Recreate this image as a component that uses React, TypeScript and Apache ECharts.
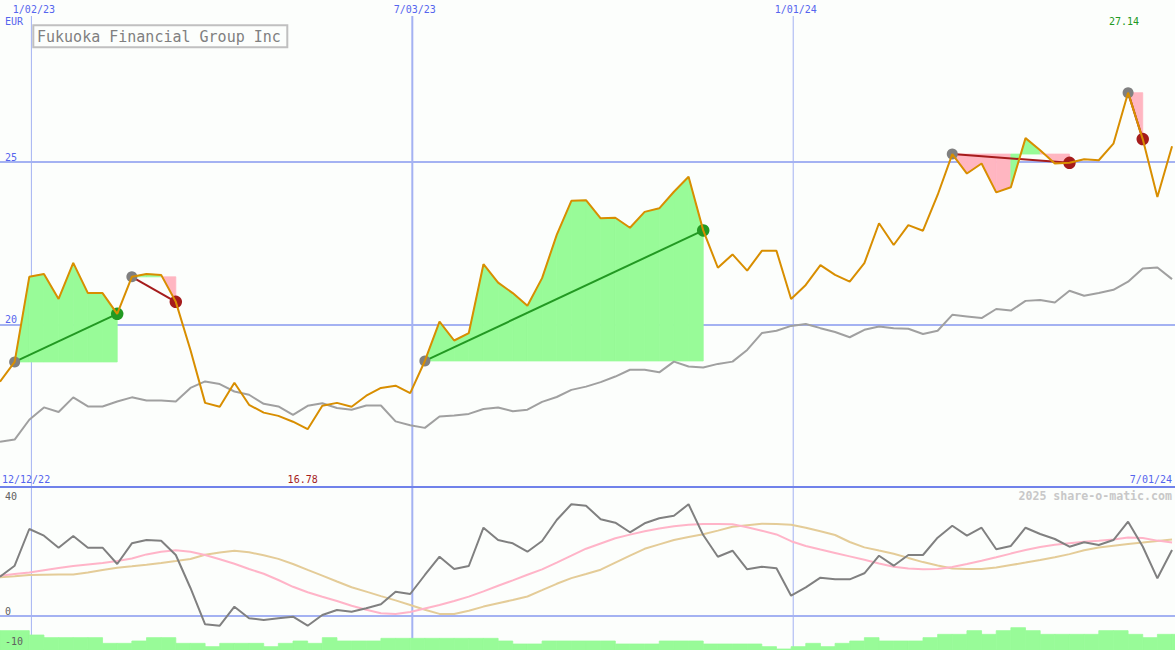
import React, { useEffect, useRef } from "react";
import * as echarts from "echarts";

// ---------- data ----------
const weekDates = [
  "2022-12-18", "2022-12-25",
  "2023-01-01", "2023-01-08", "2023-01-15", "2023-01-22", "2023-01-29",
  "2023-02-05", "2023-02-12", "2023-02-19", "2023-02-26",
  "2023-03-05", "2023-03-12", "2023-03-19", "2023-03-26",
  "2023-04-02", "2023-04-09", "2023-04-16", "2023-04-23", "2023-04-30",
  "2023-05-07", "2023-05-14", "2023-05-21", "2023-05-28",
  "2023-06-04", "2023-06-11", "2023-06-18", "2023-06-25",
  "2023-07-02", "2023-07-09", "2023-07-16", "2023-07-23", "2023-07-30",
  "2023-08-06", "2023-08-13", "2023-08-20", "2023-08-27",
  "2023-09-03", "2023-09-10", "2023-09-17", "2023-09-24",
  "2023-10-01", "2023-10-08", "2023-10-15", "2023-10-22", "2023-10-29",
  "2023-11-05", "2023-11-12", "2023-11-19", "2023-11-26",
  "2023-12-03", "2023-12-10", "2023-12-17", "2023-12-24", "2023-12-31",
  "2024-01-07", "2024-01-14", "2024-01-21", "2024-01-28",
  "2024-02-04", "2024-02-11", "2024-02-18", "2024-02-25",
  "2024-03-03", "2024-03-10", "2024-03-17", "2024-03-24", "2024-03-31",
  "2024-04-07", "2024-04-14", "2024-04-21", "2024-04-28",
  "2024-05-05", "2024-05-12", "2024-05-19", "2024-05-26",
  "2024-06-02", "2024-06-09", "2024-06-16", "2024-06-23", "2024-06-30",
];

const price = [
  18.24, 18.85, 21.47, 21.56, 20.79, 21.90, 20.97, 20.97, 20.33, 21.47,
  21.56, 21.53, 20.70, 19.22, 17.59, 17.47, 18.21, 17.53, 17.29, 17.19,
  17.01, 16.78, 17.50, 17.59, 17.47, 17.81, 18.05, 18.12, 17.89, 18.88,
  20.09, 19.51, 19.74, 21.86, 21.29, 20.97, 20.58, 21.43, 22.76, 23.81,
  23.83, 23.27, 23.29, 22.98, 23.47, 23.58, 24.09, 24.55, 22.90, 21.75,
  22.16, 21.66, 22.27, 22.27, 20.79, 21.22, 21.83, 21.53, 21.32, 21.89,
  23.12, 22.45, 23.06, 22.89, 23.99, 25.25, 24.65, 24.96, 24.07, 24.23,
  25.74, 25.37, 24.96, 24.98, 25.09, 25.06, 25.57, 27.14, 25.71, 23.93,
  25.49,
];

const benchmark = [
  16.39, 16.46, 17.07, 17.45, 17.31, 17.76, 17.48, 17.48, 17.63, 17.76,
  17.66, 17.66, 17.63, 18.05, 18.25, 18.17, 17.94, 17.84, 17.56, 17.48,
  17.22, 17.50, 17.58, 17.43, 17.38, 17.51, 17.51, 17.02, 16.90, 16.82,
  17.17, 17.20, 17.25, 17.40, 17.45, 17.33, 17.38, 17.62, 17.77, 17.99,
  18.09, 18.23, 18.40, 18.61, 18.61, 18.53, 18.86, 18.71, 18.68, 18.79,
  18.86, 19.22, 19.74, 19.81, 19.96, 20.02, 19.89, 19.77, 19.61, 19.84,
  19.94, 19.89, 19.87, 19.71, 19.81, 20.30, 20.25, 20.20, 20.48, 20.43,
  20.73, 20.76, 20.68, 21.04, 20.89, 20.97, 21.07, 21.32, 21.73, 21.76,
  21.40,
];

const oscillator = [
  13.74, 17.59, 30.42, 28.08, 23.88, 27.97, 23.88, 23.88, 18.18, 25.42,
  26.57, 26.33, 21.33, 9.8, -2.9, -3.39, 3.25, -0.8, -1.4, -0.8,
  -0.24, -3.39, 0.35, 2.1, 1.5, 2.69, 4.09, 8.5, 7.69, 14.34,
  20.73, 16.43, 17.48, 30.87, 26.57, 25.42, 22.48, 26.22, 33.57, 39.06,
  38.57, 33.81, 32.62, 29.27, 32.41, 34.16, 35.07, 39.06, 28.3, 20.73,
  22.83, 16.33, 17.24, 16.68, 7.1, 10.03, 13.39, 12.83, 12.83, 14.93,
  21.08, 17.59, 21.33, 21.33, 27.38, 31.57, 28.08, 30.87, 23.32, 24.48,
  30.87, 28.67, 26.92, 24.23, 25.77, 24.83, 26.57, 32.97, 24.3, 13.18,
  23.08,
];

const signalFast = [
  14.09, 14.69, 15.24, 16.01, 16.78, 17.45, 18.01, 18.53, 19.23, 20.10,
  21.54, 22.48, 23.01, 22.48, 21.33, 19.83, 18.25, 16.43, 14.76, 12.59,
  10.21, 8.29, 6.71, 5.24, 3.60, 2.17, 0.94, 0.70, 1.40, 2.62,
  3.85, 5.24, 6.78, 8.60, 10.59, 12.45, 14.41, 16.29, 18.67, 21.08,
  23.53, 25.35, 27.17, 28.46, 29.62, 30.59, 31.40, 31.89, 32.17, 32.13,
  32.06, 31.01, 29.79, 28.53, 26.15, 24.48, 23.22, 22.03, 20.84, 19.65,
  18.36, 17.20, 16.61, 16.33, 16.43, 17.13, 18.18, 19.30, 20.52, 21.82,
  23.08, 24.13, 24.90, 25.45, 25.94, 26.29, 26.75, 27.48, 27.27, 26.36,
  25.73,
];

const signalSlow = [
  13.53, 13.92, 14.34, 14.41, 14.48, 14.55, 15.21, 16.08, 16.85, 17.38,
  17.94, 18.53, 19.20, 19.93, 21.40, 22.20, 22.80, 22.27, 21.26, 19.97,
  18.18, 16.15, 14.13, 12.06, 10.07, 8.53, 6.96, 5.45, 3.85, 2.20,
  0.73, 0.70, 1.85, 3.29, 4.44, 5.59, 6.82, 9.02, 11.26, 13.25,
  14.69, 16.19, 18.67, 21.12, 23.50, 25.03, 26.57, 27.62, 28.57, 29.86,
  31.19, 31.75, 32.24, 32.17, 31.89, 30.87, 29.62, 28.32, 25.87, 23.99,
  22.87, 21.78, 20.31, 18.85, 17.69, 16.61, 16.43, 16.43, 16.92, 17.80,
  18.67, 19.58, 20.52, 21.64, 22.97, 23.95, 24.55, 25.14, 25.66, 26.19,
  26.71,
];

const volume = [
  5.8, 5.8, 4.5, 3.7, 3.7, 3.7, 3.7, 2.0, 2.0, 2.7,
  3.7, 3.7, 2.0, 2.0, 1.0, 2.0, 2.0, 2.0, 1.0, 2.0,
  2.7, 2.0, 3.7, 2.7, 2.7, 2.7, 3.5, 3.5, 3.5, 3.5,
  3.5, 3.5, 3.5, 3.5, 2.7, 1.8, 1.8, 2.7, 2.7, 2.7,
  2.7, 2.7, 1.8, 1.8, 1.8, 2.7, 2.7, 2.7, 1.8, 1.8,
  1.8, 1.8, 1.0, 0.3, 1.0, 2.0, 1.0, 2.0, 2.7, 3.7,
  2.7, 2.7, 2.7, 3.7, 4.7, 4.7, 5.8, 4.7, 5.8, 6.7,
  5.8, 4.7, 4.7, 4.7, 4.7, 5.8, 5.8, 4.7, 3.7, 4.7,
  4.7,
];

// trades: week index of entry and of exit
const tradeEntries = [1, 9, 29, 65, 77];
const tradeExits = [8, 12, 48, 73, 78];

const gridDates = ["2023-01-02", "2023-07-03", "2024-01-01"];
const gridDateLabels = ["1/02/23", "7/03/23", "1/01/24"];
const upperTickLabels = [20, 25];
const lowerTickLabels = [-10, 0, 40];
const lowerRefLevels = [0];
const rangeStartLabel = "12/12/22";
const rangeEndLabel = "7/01/24";
const titleText = "Fukuoka Financial Group Inc";
const currencyText = "EUR";
const watermarkText = "2025 share-o-matic.com";
const axisStart = "2022-12-18";
const axisEnd = "2024-07-01T10:00:00Z";

// ---------- styles ----------
const BG = "#fcfefc";
const BLUE = "#5565ee";
const GRID_BLUE = "#a4b2f2";
const SEP_BLUE = "#7082ea";
const ORANGE = "#d88e00";
const GREEN_FILL = "#98fb98";
const PINK_FILL = "#ffb6c1";
const WIN = "#229922";
const LOSS = "#a51c1c";
const MONO = "DejaVu Sans Mono";
const FONT10 = '10px "DejaVu Sans Mono", monospace';
const gridLineWidths = [1, 2, 1];
const LOWER_MIN = -10;

export default function App() {
  const ref = useRef<HTMLDivElement>(null);

  useEffect(() => {
    if (!ref.current) return;
    const chart = echarts.init(ref.current, null, { renderer: "svg" });
    const ts = weekDates.map((d) => Date.parse(d));
    const T0 = Date.parse(axisStart);
    const T1 = Date.parse(axisEnd);
    const WEEK = 7 * 86400000;

    const pairs = (arr: number[]) => arr.map((v, i) => [ts[i], v]);

    // area segments for each trade
    const areaData: number[][] = [];
    tradeEntries.forEach((e, k) => {
      const x = tradeExits[k];
      const lv = price[e];
      for (let j = e; j < x; j++) {
        areaData.push([ts[j], price[j], ts[j + 1], price[j + 1], lv]);
      }
    });

    const tradeLineSeries = tradeEntries.map((e, k) => {
      const x = tradeExits[k];
      const win = price[x] >= price[e];
      return {
        type: "line",
        xAxisIndex: 0,
        yAxisIndex: 0,
        z: 4,
        symbol: "none",
        silent: true,
        lineStyle: { color: win ? WIN : LOSS, width: 2 },
        data: [
          [ts[e], price[e]],
          [ts[x], price[x]],
        ],
      };
    });

    const vgrid = (xi: number, yi: number) => ({
      type: "custom",
      xAxisIndex: xi,
      yAxisIndex: yi,
      z: 1,
      silent: true,
      data: gridDates.map((d, k) => [Date.parse(d), k]),
      renderItem: (params: any, api: any) => {
        const x = api.coord([api.value(0), 0])[0];
        const cs = params.coordSys;
        return {
          type: "line",
          shape: { x1: x, y1: cs.y, x2: x, y2: cs.y + cs.height },
          style: { stroke: GRID_BLUE, lineWidth: gridLineWidths[api.value(1)] },
        };
      },
    });

    const option: any = {
      animation: false,
      backgroundColor: BG,
      grid: [
        { left: 0, right: 0, top: 16, height: 471 },
        { left: 0, right: 0, top: 501.6, height: 143 },
        { left: 0, right: 0, top: 487, height: 163 },
      ],
      xAxis: [0, 1, 2].map((g) => ({
        type: "time",
        gridIndex: g,
        min: T0,
        max: T1,
        z: g === 0 ? 10 : 0,
        axisLabel: { show: false },
        axisTick: { show: false },
        splitLine: { show: false },
        axisLine: {
          show: g === 0,
          onZero: false,
          lineStyle: { color: SEP_BLUE, width: 2 },
        },
      })),
      yAxis: [
        {
          type: "value",
          gridIndex: 0,
          min: 15,
          max: 29.5,
          interval: 5,
          axisLine: { show: false },
          axisTick: { show: false },
          splitLine: {
            show: true,
            showMaxLine: false,
            showMinLine: false,
            lineStyle: { color: GRID_BLUE, width: 2 },
          },
          axisLabel: {
            inside: true,
            margin: 5,
            fontSize: 10,
            fontFamily: MONO,
            color: BLUE,
            verticalAlign: "bottom",
            formatter: (v: number) => (upperTickLabels.includes(v) ? String(v) : ""),
          },
        },
        {
          type: "value",
          gridIndex: 1,
          min: LOWER_MIN,
          max: 40,
          interval: 10,
          z: 10,
          axisLine: { show: false },
          axisTick: { show: false },
          splitLine: { show: false },
          axisLabel: {
            inside: true,
            margin: 5,
            fontSize: 10,
            fontFamily: MONO,
            color: "#606060",
            verticalAlign: "bottom",
            showMaxLabel: true,
            // the minimum label sits over the volume bars; drawn as a graphic text below
            formatter: (v: number) =>
              v !== LOWER_MIN && lowerTickLabels.includes(v) ? String(v) : "",
          },
        },
        {
          type: "value",
          gridIndex: 2,
          min: 0,
          max: 48.9,
          show: false,
        },
      ],
      series: [
        vgrid(0, 0),
        vgrid(2, 2),
        {
          type: "custom",
          xAxisIndex: 1,
          yAxisIndex: 1,
          z: 1,
          silent: true,
          data: lowerRefLevels.map((l) => [T0, l]),
          renderItem: (params: any, api: any) => {
            const y = api.coord([api.value(0), api.value(1)])[1];
            const cs = params.coordSys;
            return {
              type: "line",
              shape: { x1: cs.x, y1: y, x2: cs.x + cs.width, y2: y },
              style: { stroke: GRID_BLUE, lineWidth: 2 },
            };
          },
        },
        {
          type: "custom",
          xAxisIndex: 2,
          yAxisIndex: 2,
          z: 2,
          silent: true,
          data: volume.map((v, i) => [ts[i], v, i + 1 < ts.length ? ts[i + 1] : ts[i] + WEEK]),
          renderItem: (params: any, api: any) => {
            const a = api.coord([api.value(0), api.value(1)]);
            const b = api.coord([api.value(2), 0]);
            return {
              type: "rect",
              shape: { x: a[0], y: a[1], width: b[0] - a[0], height: b[1] - a[1] },
              style: { fill: GREEN_FILL, stroke: GREEN_FILL, lineWidth: 0.8 },
            };
          },
        },
        {
          type: "custom",
          xAxisIndex: 0,
          yAxisIndex: 0,
          z: 2,
          silent: true,
          data: areaData,
          renderItem: (params: any, api: any) => {
            const x1 = api.value(0);
            const p1 = api.value(1);
            const x2 = api.value(2);
            const p2 = api.value(3);
            const lv = api.value(4);
            const col = p2 >= lv ? GREEN_FILL : PINK_FILL;
            return {
              type: "polygon",
              shape: {
                points: [api.coord([x1, lv]), api.coord([x1, p1]), api.coord([x2, p2]), api.coord([x2, lv])],
              },
              style: { fill: col, stroke: col, lineWidth: 0.8 },
            };
          },
        },
        {
          type: "line",
          xAxisIndex: 0,
          yAxisIndex: 0,
          z: 3,
          symbol: "none",
          silent: true,
          lineStyle: { color: "#a0a0a0", width: 2 },
          data: pairs(benchmark),
        },
        ...tradeLineSeries,
        {
          type: "scatter",
          xAxisIndex: 0,
          yAxisIndex: 0,
          z: 5,
          silent: true,
          symbolSize: 11,
          itemStyle: { color: "#808080", opacity: 1 },
          data: tradeEntries.map((e) => [ts[e], price[e]]),
        },
        {
          type: "scatter",
          xAxisIndex: 0,
          yAxisIndex: 0,
          z: 5,
          silent: true,
          symbolSize: 12.5,
          data: tradeExits.map((x, k) => ({
            value: [ts[x], price[x]],
            itemStyle: { color: price[x] >= price[tradeEntries[k]] ? WIN : LOSS, opacity: 1 },
          })),
        },
        {
          type: "line",
          xAxisIndex: 0,
          yAxisIndex: 0,
          z: 6,
          symbol: "none",
          silent: true,
          lineStyle: { color: ORANGE, width: 2 },
          data: pairs(price),
        },
        {
          type: "line",
          xAxisIndex: 1,
          yAxisIndex: 1,
          z: 3,
          symbol: "none",
          silent: true,
          lineStyle: { color: "#e4cc98", width: 2 },
          data: pairs(signalSlow),
        },
        {
          type: "line",
          xAxisIndex: 1,
          yAxisIndex: 1,
          z: 3,
          symbol: "none",
          silent: true,
          lineStyle: { color: "#ffb4c8", width: 2 },
          data: pairs(signalFast),
        },
        {
          type: "line",
          xAxisIndex: 1,
          yAxisIndex: 1,
          z: 4,
          symbol: "none",
          silent: true,
          lineStyle: { color: "#808080", width: 2 },
          data: pairs(oscillator),
        },
      ],
    };

    chart.setOption(option);

    const px = (t: number) => chart.convertToPixel({ xAxisIndex: 0 }, t) as unknown as number;
    const maxV = Math.max(...price);
    const minV = Math.min(...price);
    const maxI = price.indexOf(maxV);
    const minI = price.indexOf(minV);

    const txt = (text: string, x: number, y: number, fill: string, align: string, font = FONT10) => ({
      type: "text",
      x,
      y,
      silent: true,
      z: 20,
      style: { text, fill, font, align, verticalAlign: "middle", textAlign: align, textVerticalAlign: "middle" },
    });

    chart.setOption({
      graphic: [
        {
          type: "rect",
          z: 20,
          silent: true,
          shape: { x: 33.3, y: 25.3, width: 254, height: 22 },
          style: { fill: BG, stroke: "#c0c0c0", lineWidth: 2 },
        },
        txt(titleText, 37, 36.5, "#808080", "left", '15px "DejaVu Sans Mono", monospace'),
        ...gridDates.map((d, k) => txt(gridDateLabels[k], px(Date.parse(d)) + 2.5, 9, BLUE, "center")),
        txt(currencyText, 5, 21, BLUE, "left"),
        txt(maxV.toFixed(2), px(ts[maxI]) - 4, 21, WIN, "center"),
        txt(minV.toFixed(2), px(ts[minI]) - 5, 479, LOSS, "center"),
        txt(rangeStartLabel, 2, 479, BLUE, "left"),
        txt(rangeEndLabel, 1172, 479, BLUE, "right"),
        txt(watermarkText, 1172, 496, "#c8c8c8", "right", 'bold 11.6px "DejaVu Sans Mono", monospace'),
        txt(String(LOWER_MIN), 5, 641, "#606060", "left"),
      ],
    });

    return () => chart.dispose();
  }, []);

  return (
    <div
      ref={ref}
      style={{ position: "fixed", left: 0, top: 0, width: 1175, height: 650 }}
    />
  );
}
